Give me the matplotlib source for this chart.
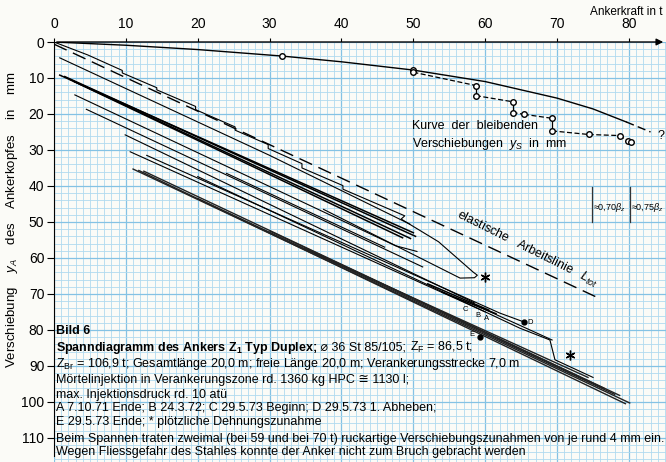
import numpy as np
import matplotlib
matplotlib.use("Agg")
import matplotlib.pyplot as plt
from matplotlib.ticker import MultipleLocator

plt.rcParams['font.family'] = ['Liberation Sans', 'DejaVu Sans']
plt.rcParams['mathtext.fontset'] = 'custom'
plt.rcParams['mathtext.rm'] = 'Liberation Sans'
plt.rcParams['mathtext.it'] = 'Liberation Sans:italic'
plt.rcParams['mathtext.bf'] = 'Liberation Sans:bold'

# Achsen
kraft_ticks = [0, 10, 20, 30, 40, 50, 60, 70, 80]
weg_ticks = [0, 10, 20, 30, 40, 50, 60, 70, 80, 90, 100, 110]

# obere Kurve
kurve_x = [0, 10, 20, 31.7, 40, 50, 60, 70, 75, 79.6]
kurve_y = [0, 0.9, 2.1, 3.9, 5.5, 7.8, 11.0, 15.6, 18.6, 22.2]
kurve_end_x = [79.6, 83.0]
kurve_end_y = [22.2, 25.0]
kurve_pkt_x = [31.7, 50.0]
kurve_pkt_y = [3.9, 7.8]

# bleibende Verschiebungen y_S
ys_x = [50.0, 58.7, 58.7, 63.8, 63.8, 65.4, 69.3, 69.3, 74.4, 78.7, 79.8, 80.3]
ys_y = [8.4, 12.1, 14.9, 16.6, 19.6, 20.1, 21.2, 24.7, 25.7, 26.0, 27.4, 27.9]

# elastische Arbeitslinie
el_x = [0, 75.4]
el_y = [0.6, 70.8]

# Erstbelastung mit Stufen
stufe_x = [0, 4.7, 9.5, 9.5, 14.3, 14.3, 19.7, 19.7, 25.2, 25.2, 29.8, 29.8,
           34.5, 34.5, 40.2, 40.2, 48.8, 48.3, 53.5, 58.3, 58.9, 58.5, 56.5, 37.5]
stufe_y = [0, 3.6, 7.9, 8.6, 12.7, 13.3, 17.9, 18.8, 23.6, 24.5, 28.5, 29.6,
           33.8, 35.0, 39.9, 40.9, 48.3, 49.2, 55.5, 63.9, 64.8, 65.5, 65.6, 46.5]

# duenne Linien
duenn = [
    ([0.8, 30.0, 49.5], [4.4, 31.5, 50.6]),
    ([2.9, 47.5, 50.5], [14.7, 56.6, 58.2]),
    ([4.5, 51.3], [18.7, 62.5]),
    ([9.9, 58.5], [25.8, 72.5]),
    ([10.6, 60.0], [30.5, 75.0]),
    ([12.9, 62.0, 65.4], [31.5, 75.3, 77.8]),
    ([20.0, 64.8, 69.0, 69.7, 75.0], [37.4, 79.5, 82.8, 88.3, 93.2]),
    ([58.5, 69.3], [73.0, 82.8]),
    ([24.0, 46.0], [36.5, 57.0]),
]
# kraeftige Linien Mitte
dick = [
    ([0.8, 50.0], [9.2, 53.0]),
    ([1.5, 50.3], [9.6, 54.0]),
    ([2.2, 49.6], [10.4, 54.6]),
    ([2.8, 48.5], [11.0, 54.4]),
    ([52.0, 60.5], [67.2, 74.5]),
    ([54.0, 61.5], [69.5, 75.5]),
]
# untere Schar
unten = [
    ([11.0, 80.1], [35.3, 100.3]),
    ([11.8, 79.5], [35.7, 100.5]),
    ([12.5, 78.7], [35.9, 98.2]),
    ([20.0, 78.0], [43.5, 97.9]),
    ([30.0, 76.5], [52.5, 96.2]),
    ([35.0, 74.3], [57.5, 93.2]),
]
stern_x = [60.0, 71.8]
stern_y = [65.3, 87.0]
de_x = [65.4, 59.3]
de_y = [77.8, 82.0]
abc = [("C", 57.3, 74.4), ("B", 59.0, 76.1), ("A", 60.2, 76.9), ("D", 66.2, 77.8), ("E", 58.2, 81.4)]
beta_x = [74.8, 80.1]
beta_txt = [r"≈0,70$\beta_z$", r"≈0,75$\beta_z$"]

W, H = 666, 462
fig = plt.figure(figsize=(W / 100, H / 100), dpi=100, facecolor='#fbfbf7')
ax = fig.add_axes([54 / W, 0, 612 / W, 420 / H])
ax.set_facecolor('#fbfbf7')
ax.set_xlim(0, 85.15)
ax.set_ylim(116.7, 0)

ax.xaxis.set_minor_locator(MultipleLocator(1))
ax.xaxis.set_major_locator(MultipleLocator(5))
ax.yaxis.set_minor_locator(MultipleLocator(2))
ax.yaxis.set_major_locator(MultipleLocator(10))
ax.grid(which='minor', color='#b0daef', lw=0.6)
ax.grid(which='major', color='#84c2e4', lw=0.9)
ax.set_axisbelow(True)

ax.xaxis.tick_top()
ax.set_xticks(kraft_ticks)
ax.set_yticks(weg_ticks)
ax.tick_params(axis='x', which='major', length=3, pad=5, labelsize=10)
ax.tick_params(axis='y', which='major', length=5, pad=2, labelsize=10)
ax.tick_params(which='minor', length=0)
for s in ['right', 'bottom', 'top']:
    ax.spines[s].set_visible(False)
ax.spines['left'].set_bounds(0, 115)
ax.annotate('', xy=(85.15, 0), xytext=(0, 0), xycoords='data',
            arrowprops=dict(arrowstyle='-|>', color='black', lw=1.0, mutation_scale=10),
            annotation_clip=False)

# Linien
ax.plot(kurve_x, kurve_y, color='black', lw=1.0)
ax.plot(kurve_end_x, kurve_end_y, color='black', lw=1.0, dashes=(6, 3))
ax.plot(kurve_pkt_x, kurve_pkt_y, 'o', mfc='white', mec='black', ms=4, mew=1.0)
ax.text(84.4, 26.0, "?", fontsize=9, ha='center', va='center')

for i in range(len(ys_x) - 1):
    if ys_x[i] == ys_x[i + 1]:
        ax.plot(ys_x[i:i + 2], ys_y[i:i + 2], color='black', lw=0.9)
    else:
        ax.plot(ys_x[i:i + 2], ys_y[i:i + 2], color='black', lw=0.9, dashes=(4, 2))
ax.plot(ys_x, ys_y, 'o', mfc='white', mec='black', ms=4, mew=1.0, ls='none')

ax.plot(el_x, el_y, color='black', lw=1.0, dashes=(10, 5))
ax.plot(stufe_x, stufe_y, color='black', lw=0.8)
for xs, yv in duenn:
    ax.plot(xs, yv, color='black', lw=0.8)
for xs, yv in dick:
    ax.plot(xs, yv, color='black', lw=1.1)
for xs, yv in unten:
    ax.plot(xs, yv, color='#222222', lw=1.0)

ax.plot(stern_x, stern_y, marker=(6, 2, 0), color='black', ms=7, ls='none', mew=1.0)
ax.plot(de_x, de_y, 'o', color='black', ms=3.5, ls='none')
for lab, x, y in abc:
    ax.text(x, y, lab, fontsize=5.5, ha='center', va='center')

for bx, bt in zip(beta_x, beta_txt):
    ax.plot([bx, bx], [40.3, 50.0], color='#333333', lw=0.9)
    ax.text(bx + 0.2, 46.0, bt, fontsize=6.5, ha='left', va='center')

ax.text(55.6, 49.6, r"elastische   Arbeitslinie   $L_{tot}$", fontsize=9,
        rotation=-26.5, rotation_mode='anchor', ha='left', va='bottom')
ax.text(49.8, 23.3, "Kurve  der  bleibenden", fontsize=9, ha='left', va='center')
ax.text(49.8, 28.4, r"Verschiebungen  $y_S$  in  mm", fontsize=9, ha='left', va='center')

fig.text(662 / W, 1 - 12 / H, "Ankerkraft in t", fontsize=8.5, ha='right', va='center')
fig.text(12 / W, 1 - 220 / H, r"Verschiebung    $y_A$    des    Ankerkopfes    in    mm",
         fontsize=9.5, rotation=90, ha='center', va='center')

# Legendentext
renderer = fig.canvas.get_renderer()


def zeile(py, teile, size=9.0):
    x = 56 / W
    for s, w in teile:
        t = fig.text(x, 1 - py / H, s, fontsize=size, weight=w, va='baseline', ha='left')
        bb = t.get_window_extent(renderer)
        x = bb.x1 / fig.bbox.width


zeile(334.5, [("Bild 6", 'bold')])
zeile(350.5, [(r"Spanndiagramm des Ankers $\mathbf{Z_1}$ Typ Duplex;", 'bold'),
              (" ⌀ 36 St 85/105; ", 'normal'),
              (r"$\mathregular{Z_F}$ = 86,5 t;", 'normal')])
zeile(366.5, [(r"$\mathregular{Z_{Br}}$ = 106,9 t; Gesamtlänge 20,0 m; freie Länge 20,0 m; Verankerungsstrecke 7,0 m", 'normal')])
zeile(383.0, [("Mörtelinjektion in Verankerungszone rd. 1360 kg HPC ≅ 1130 l;", 'normal')])
zeile(398.0, [("max. Injektionsdruck rd. 10 atü", 'normal')])
zeile(411.5, [("A 7.10.71 Ende; B 24.3.72; C 29.5.73 Beginn; D 29.5.73 1. Abheben;", 'normal')])
zeile(425.0, [("E 29.5.73 Ende; * plötzliche Dehnungszunahme", 'normal')])
zeile(442.0, [("Beim Spannen traten zweimal (bei 59 und bei 70 t) ruckartige Verschiebungszunahmen von je rund 4 mm ein.", 'normal')])
zeile(455.5, [("Wegen Fliessgefahr des Stahles konnte der Anker nicht zum Bruch gebracht werden", 'normal')])

fig.savefig("out.png", dpi=100, facecolor=fig.get_facecolor())
